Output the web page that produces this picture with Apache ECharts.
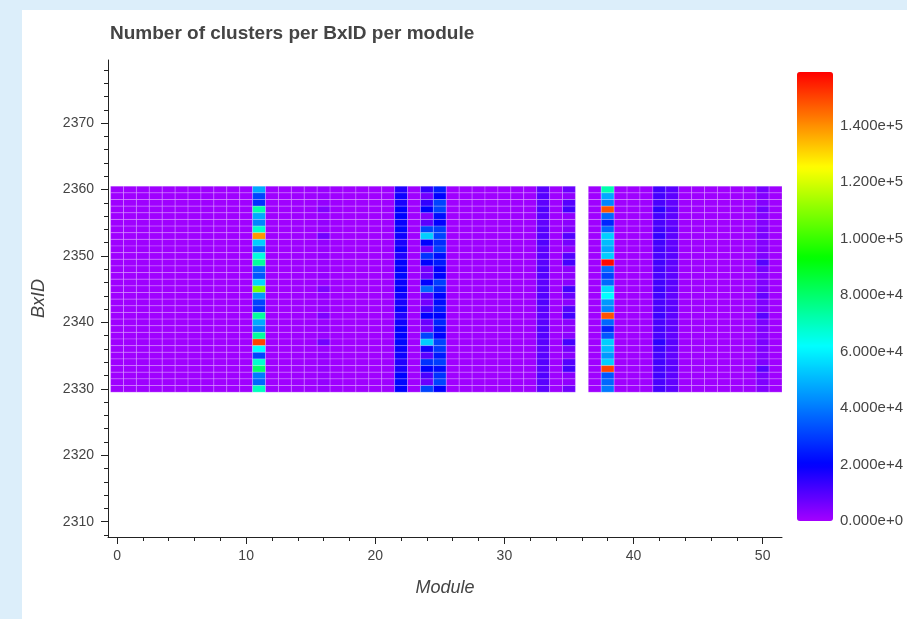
<!DOCTYPE html>
<html>
<head>
<meta charset="utf-8">
<title>Number of clusters per BxID per module</title>
<script src="https://cdn.jsdelivr.net/npm/echarts@6/dist/echarts.min.js"></script>
<style>
  html, body { margin: 0; padding: 0; background: #dceefa; }
  #main { position: absolute; left: 22px; top: 10px; width: 885px; height: 609px; background: #fff; }
</style>
</head>
<body>
<div id="main"></div>
<script>
// x: module number, y: bunch crossing id (rows listed top -> bottom)
var modules = [0, 1, 2, 3, 4, 5, 6, 7, 8, 9, 10, 11, 12, 13, 14, 15, 16, 17, 18, 19, 20, 21, 22, 23, 24, 25,
	26, 27, 28, 29, 30, 31, 32, 33, 34, 35, 36, 37, 38, 39, 40, 41, 42, 43, 44, 45, 46, 47, 48, 49, 50, 51];
var bxids = [2360, 2359, 2358, 2357, 2356, 2355, 2354, 2353, 2352, 2351, 2350, 2349, 2348, 2347, 2346, 2345,
	2344, 2343, 2342, 2341, 2340, 2339, 2338, 2337, 2336, 2335, 2334, 2333, 2332, 2331, 2330];

// quiet modules: about the same count in every bxid (null = module 36, no data)
var baseLevel = [600, 500, 700, 500, 600, 500, 600, 700, 500, 600, 500, null, 600, 500, 700, 800, null, 600, 500, 600,
	500, 700, null, 600, null, null, 500, 600, 700, 500, 600, 700, 800, null, 700, null, null, 600, null, 500,
	600, 700, null, null, 800, 700, 600, 500, 600, 700, null, 600];

// busy modules, one value per bxid (top -> bottom)
var col11 = [48000, 31000, 28000, 72000, 48000, 42000, 68000, 139000, 54000, 37000, 66000, 74000, 37000, 34000, 55000, 108000,
	45000, 31000, 28000, 74000, 48000, 40000, 74000, 150000, 62000, 31000, 68000, 80000, 40000, 37000, 70000];
var col16 = [1500, 1500, 2000, 4000, 1500, 2000, 1500, 6000, 2000, 1500, 2000, 1500, 1500, 2000, 1500, 4500,
	2000, 1500, 2000, 4500, 1500, 2000, 1500, 6000, 1500, 2000, 1500, 2000, 1500, 2000, 1500];
var col22 = [16000, 18000, 17000, 20000, 20000, 19000, 21000, 18000, 17000, 19000, 16000, 20000, 20000, 21000, 19000, 20000,
	18000, 17000, 19000, 16000, 18000, 20000, 20000, 21000, 19000, 18000, 16000, 17000, 20000, 21000, 20000];
var col24 = [14000, 6000, 14000, 20000, 4000, 9000, 31000, 54000, 20000, 7000, 28000, 20000, 6000, 7000, 20000, 37000,
	9000, 6000, 11000, 20000, 7000, 6000, 31000, 54000, 18000, 9000, 28000, 20000, 11000, 7000, 31000];
var col25 = [25000, 20000, 31000, 31000, 22000, 20000, 30000, 31000, 27000, 30000, 22000, 24000, 20000, 20000, 30000, 26000,
	20000, 22000, 24000, 20000, 26000, 22000, 20000, 31000, 29000, 24000, 30000, 22000, 28000, 31000, 20000];
var col33 = [9000, 9500, 8500, 10000, 9000, 8000, 9000, 9500, 10000, 8500, 9000, 9000, 10000, 9500, 8500, 9000,
	9500, 10000, 9000, 8500, 9000, 10000, 9500, 9000, 8500, 9000, 9500, 9000, 10000, 9000, 8500];
var col35 = [7000, 2500, 9500, 11500, 2500, 3000, 4000, 9500, 5500, 2500, 9500, 11500, 3000, 2500, 3000, 11500,
	7000, 3000, 9500, 11500, 3000, 2500, 3000, 11500, 6000, 3000, 9500, 11500, 3000, 2500, 6000];
var col38 = [72000, 48000, 42000, 148000, 37000, 26000, 37000, 54000, 51000, 48000, 54000, 158000, 37000, 31000, 37000, 56000,
	62000, 45000, 42000, 148000, 37000, 26000, 34000, 54000, 51000, 45000, 54000, 150000, 34000, 37000, 40000];
var col42 = [12000, 11500, 11000, 14000, 11500, 11000, 12000, 13500, 12000, 11500, 11000, 12000, 11500, 11000, 12000, 12500,
	12000, 11000, 11500, 12500, 11000, 11500, 11000, 14500, 12500, 11500, 12000, 11500, 12000, 11000, 11500];
var col43 = [9000, 8500, 8000, 9000, 8500, 8000, 9000, 8500, 8000, 8500, 9000, 8500, 8000, 8500, 9000, 8500,
	8000, 8500, 9000, 8500, 8000, 8500, 8000, 9000, 8500, 8000, 8500, 9000, 8500, 8000, 8500];
var col50 = [5500, 4000, 4000, 6000, 4000, 4000, 4500, 5000, 4000, 4000, 4500, 9500, 5500, 4000, 4500, 5000,
	7500, 4500, 4500, 9000, 5000, 4500, 4000, 5000, 4500, 4000, 4500, 9000, 5000, 4500, 4000];
var busyColumns = { 11: col11, 16: col16, 22: col22, 24: col24, 25: col25, 33: col33, 35: col35, 38: col38, 42: col42, 43: col43, 50: col50 };

// tick labels
var xTicks = [0, 10, 20, 30, 40, 50];
var yTicks = [2310, 2320, 2330, 2340, 2350, 2360, 2370];
var colorTicks = [0, 20000, 40000, 60000, 80000, 100000, 120000, 140000];

var X_MIN = -0.7, X_MAX = 51.5;
var Y_MIN = 2307.7, Y_MAX = 2379.5;
var C_MAX = 159000;
var FONT = '"Liberation Sans", Arial, sans-serif';
var TXT = '#444';
var AXIS = '#222';

// colour ramp (violet -> blue -> cyan -> green -> yellow -> red)
var RAMP = [[0, [164, 0, 255]], [20000, [0, 0, 255]], [62000, [0, 255, 255]], [93000, [0, 255, 0]], [125000, [255, 255, 0]], [159000, [255, 0, 0]]];
function rampColor(v) {
	for (var i = 1; i < RAMP.length; i++) {
		if (v <= RAMP[i][0]) {
			var t = (v - RAMP[i - 1][0]) / (RAMP[i][0] - RAMP[i - 1][0]);
			var a = RAMP[i - 1][1], b = RAMP[i][1];
			return 'rgb(' + [0, 1, 2].map(function (k) { return Math.round(a[k] + (b[k] - a[k]) * t); }).join(',') + ')';
		}
	}
	return 'rgb(255,0,0)';
}
var rampColors = [];
for (var s = 0; s <= 159; s++) rampColors.push(rampColor(s * 1000));

// minor tick positions (every 2 units)
function minorTicks(from, to, major) {
	var out = [];
	for (var v = from; v <= to; v += 2) if (v % major !== 0) out.push(v);
	return out;
}

var cells = [];
modules.forEach(function (m) {
	var col = busyColumns[m];
	if (!col && baseLevel[m] == null) return;
	bxids.forEach(function (b, i) {
		cells.push([m, b, col ? col[i] : baseLevel[m]]);
	});
});

function renderCell(params, api) {
	var x = api.value(0), y = api.value(1);
	var p0 = api.coord([x - 0.5, y + 0.5]);
	var p1 = api.coord([x + 0.5, y - 0.5]);
	return {
		type: 'rect',
		shape: { x: p0[0], y: p0[1], width: p1[0] - p0[0], height: p1[1] - p0[1] },
		style: { fill: api.visual('color'), stroke: 'rgba(255,255,255,0.2)', lineWidth: 1 }
	};
}

var chart = echarts.init(document.getElementById('main'));
chart.setOption({
	animation: false,
	textStyle: { fontFamily: FONT },
	title: {
		text: 'Number of clusters per BxID per module',
		left: 83, top: 9,
		textStyle: { fontSize: 19, fontWeight: 'bold', color: TXT, fontFamily: FONT }
	},
	grid: [
		{ left: 86, top: 50, width: 674, height: 477 },
		{ left: 775, top: 62, width: 36, height: 449 }
	],
	xAxis: [
		{
			type: 'value', gridIndex: 0, min: X_MIN, max: X_MAX, position: 'bottom',
			name: 'Module', nameLocation: 'middle', nameGap: 42,
			nameTextStyle: { fontSize: 18, fontStyle: 'italic', color: TXT, fontFamily: FONT },
			axisLine: { onZero: false, lineStyle: { color: AXIS, width: 1 } },
			axisTick: { customValues: xTicks, length: 7, lineStyle: { color: AXIS } },
			axisLabel: { customValues: xTicks, margin: 12, fontSize: 14, color: TXT, fontFamily: FONT },
			splitLine: { show: false }
		},
		{
			type: 'value', gridIndex: 0, min: X_MIN, max: X_MAX, position: 'bottom',
			axisLine: { show: false, onZero: false },
			axisTick: { customValues: minorTicks(2, 50, 10), length: 4, lineStyle: { color: AXIS } },
			axisLabel: { show: false },
			splitLine: { show: false }
		},
		{ type: 'value', gridIndex: 1, show: false, min: 0, max: 1 }
	],
	yAxis: [
		{
			type: 'value', gridIndex: 0, min: Y_MIN, max: Y_MAX, position: 'left',
			name: 'BxID', nameLocation: 'middle', nameGap: 60,
			nameTextStyle: { fontSize: 18, fontStyle: 'italic', color: TXT, fontFamily: FONT },
			axisLine: { onZero: false, lineStyle: { color: AXIS, width: 1 } },
			axisTick: { customValues: yTicks, length: 7, lineStyle: { color: AXIS } },
			axisLabel: {
				customValues: yTicks, margin: 14, fontSize: 14, color: TXT, fontFamily: FONT,
				formatter: function (v) { return String(Math.round(v)); }
			},
			splitLine: { show: false }
		},
		{
			type: 'value', gridIndex: 0, min: Y_MIN, max: Y_MAX, position: 'left',
			axisLine: { show: false, onZero: false },
			axisTick: { customValues: minorTicks(2308, 2378, 10), length: 4, lineStyle: { color: AXIS } },
			axisLabel: { show: false },
			splitLine: { show: false }
		},
		{
			type: 'value', gridIndex: 1, min: 0, max: C_MAX, position: 'right',
			axisLine: { show: false, onZero: false },
			axisTick: { customValues: colorTicks, inside: true, length: 6, lineStyle: { color: '#fff' } },
			axisLabel: {
				customValues: colorTicks, margin: 7, fontSize: 15, color: TXT, fontFamily: FONT,
				formatter: function (v) { return Number(v).toExponential(3); }
			},
			splitLine: { show: false }
		}
	],
	visualMap: {
		type: 'continuous',
		seriesIndex: 0,
		dimension: 2,
		min: 0, max: C_MAX,
		calculable: false,
		orient: 'vertical',
		left: 775, top: 62,
		itemWidth: 36, itemHeight: 449,
		padding: 0,
		inRange: { color: rampColors }
	},
	series: [{
		type: 'custom',
		xAxisIndex: 0, yAxisIndex: 0,
		renderItem: renderCell,
		encode: { x: 0, y: 1 },
		data: cells,
		z: 1
	}]
});
</script>
</body>
</html>
